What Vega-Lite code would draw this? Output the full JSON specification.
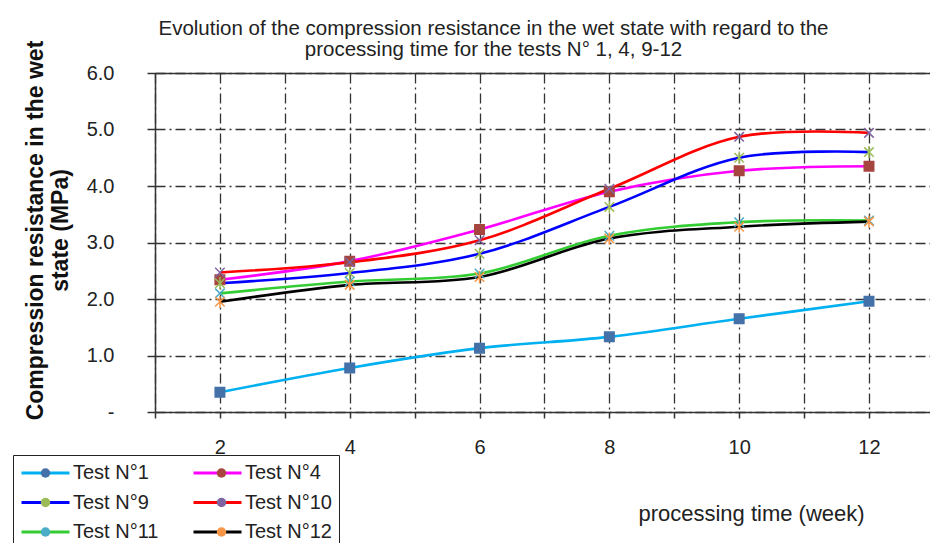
{
  "$schema": "https://vega.github.io/schema/vega-lite/v6.json",
  "autosize": "none",
  "width": 775,
  "height": 339,
  "padding": {"left": 155, "top": 73, "right": 0, "bottom": 131},
  "background": "white",
  "config": {
    "font": "Liberation Sans",
    "view": {"stroke": null}
  },
  "title": {
    "text": ["Evolution of the compression resistance in the wet state with regard to the", "processing time for the tests N° 1, 4, 9-12"],
    "font": "Liberation Sans",
    "fontSize": 20.5,
    "fontWeight": "normal",
    "color": "#222222",
    "anchor": "middle",
    "frame": "group",
    "lineHeight": 20.5,
    "dx": -49,
    "dy": 28,
    "offset": 8
  },
  "data": {
    "values": [
      {"series": "Test N°1", "week": 2, "value": 0.35},
      {"series": "Test N°1", "week": 4, "value": 0.78},
      {"series": "Test N°1", "week": 6, "value": 1.13},
      {"series": "Test N°1", "week": 8, "value": 1.33},
      {"series": "Test N°1", "week": 10, "value": 1.65},
      {"series": "Test N°1", "week": 12, "value": 1.96},
      {"series": "Test N°4", "week": 2, "value": 2.34},
      {"series": "Test N°4", "week": 4, "value": 2.67},
      {"series": "Test N°4", "week": 6, "value": 3.23},
      {"series": "Test N°4", "week": 8, "value": 3.9},
      {"series": "Test N°4", "week": 10, "value": 4.27},
      {"series": "Test N°4", "week": 12, "value": 4.35},
      {"series": "Test N°9", "week": 2, "value": 2.28},
      {"series": "Test N°9", "week": 4, "value": 2.46},
      {"series": "Test N°9", "week": 6, "value": 2.8},
      {"series": "Test N°9", "week": 8, "value": 3.63},
      {"series": "Test N°9", "week": 10, "value": 4.5},
      {"series": "Test N°9", "week": 12, "value": 4.6},
      {"series": "Test N°10", "week": 2, "value": 2.47},
      {"series": "Test N°10", "week": 4, "value": 2.65},
      {"series": "Test N°10", "week": 6, "value": 3.04},
      {"series": "Test N°10", "week": 8, "value": 3.95},
      {"series": "Test N°10", "week": 10, "value": 4.87},
      {"series": "Test N°10", "week": 12, "value": 4.94},
      {"series": "Test N°11", "week": 2, "value": 2.1},
      {"series": "Test N°11", "week": 4, "value": 2.31},
      {"series": "Test N°11", "week": 6, "value": 2.45},
      {"series": "Test N°11", "week": 8, "value": 3.12},
      {"series": "Test N°11", "week": 10, "value": 3.36},
      {"series": "Test N°11", "week": 12, "value": 3.39},
      {"series": "Test N°12", "week": 2, "value": 1.95},
      {"series": "Test N°12", "week": 4, "value": 2.25},
      {"series": "Test N°12", "week": 6, "value": 2.39},
      {"series": "Test N°12", "week": 8, "value": 3.07},
      {"series": "Test N°12", "week": 10, "value": 3.28},
      {"series": "Test N°12", "week": 12, "value": 3.37}
    ]
  },
  "resolve": {"axis": {"x": "independent"}},
  "layer": [
    {
      "mark": {"type": "line", "interpolate": "catmull-rom", "strokeWidth": 2.6},
      "encoding": {
        "x": {
          "field": "week", "type": "quantitative",
          "scale": {"domain": [1, 12.94], "nice": false, "zero": false},
          "axis": {
            "orient": "bottom",
            "values": [1, 2, 3, 4, 5, 6, 7, 8, 9, 10, 11, 12],
            "labelExpr": "datum.value % 2 == 0 ? datum.value : ''",
            "labelFont": "Liberation Sans", "labelFontSize": 20, "labelColor": "#222222",
            "labelPadding": 19, "labelFlush": false, "labelOverlap": false,
            "tickSize": 6, "tickColor": "#333333", "tickWidth": 1.5,
            "domainColor": "#333333", "domainWidth": 1.5,
            "grid": true, "gridColor": "#333333", "gridWidth": 1.3, "gridDash": [10, 4, 2, 4],
            "title": "processing time (week)",
            "titleFont": "Liberation Sans", "titleFontSize": 22, "titleFontWeight": "normal", "titleColor": "#222222",
            "titleX": 596, "titleY": 101, "titleAlign": "center", "titleBaseline": "middle", "titleAngle": 0
          }
        },
        "y": {
          "field": "value", "type": "quantitative",
          "scale": {"domain": [0, 6], "nice": false},
          "axis": {
            "values": [0, 1, 2, 3, 4, 5, 6],
            "labelExpr": "datum.value == 0 ? '-' : format(datum.value, '.1f')",
            "labelFont": "Liberation Sans", "labelFontSize": 20, "labelColor": "#222222",
            "labelPadding": 33,
            "tickSize": 8, "tickColor": "#333333", "tickWidth": 1.5,
            "domainColor": "#333333", "domainWidth": 1.5,
            "grid": true, "gridColor": "#333333", "gridWidth": 1.3, "gridDash": [10, 4, 2, 4],
            "title": ["Compression resistance in the wet", "state (MPa)"],
            "titleFont": "Liberation Sans", "titleFontSize": 23, "titleFontWeight": "bold", "titleColor": "#111111",
            "titleLineHeight": 25, "titleAngle": -90, "titleAlign": "center", "titleBaseline": "middle",
            "titleX": -120, "titleY": 157
          }
        },
        "stroke": {
          "field": "series", "type": "nominal",
          "scale": {
            "domain": ["Test N°1", "Test N°4", "Test N°9", "Test N°10", "Test N°11", "Test N°12"],
            "range": ["#00B0F0", "#FF00FF", "#0000FF", "#FF0000", "#33CC33", "#000000"]
          },
          "legend": {
            "orient": "none", "legendX": -142, "legendY": 382, "direction": "horizontal",
            "title": null, "columns": 2, "columnPadding": 33, "rowPadding": 7.5, "padding": 7,
            "clipHeight": 22,
            "symbolType": "stroke", "symbolSize": 2304, "symbolStrokeWidth": 3,
            "labelFont": "Liberation Sans", "labelFontSize": 20, "labelColor": "#222222", "labelOffset": 2,
            "strokeColor": "#222222", "fillColor": "white"
          }
        }
      }
    },
    {
      "mark": {"type": "point", "filled": true, "size": 90, "opacity": 1, "strokeWidth": 1.5,
               "stroke": {"expr": "scale('fill', datum.series)"}},
      "encoding": {
        "x": {
          "field": "week", "type": "quantitative",
          "axis": {"orient": "top", "labels": false, "ticks": false, "grid": false, "title": null,
                   "domainColor": "#333333", "domainWidth": 1.5}
        },
        "y": {"field": "value", "type": "quantitative"},
        "fill": {
          "field": "series", "type": "nominal",
          "sort": ["Test N°1", "Test N°4", "Test N°9", "Test N°10", "Test N°11", "Test N°12"],
          "scale": {"range": ["#4471A8", "#A6453F", "#9BBB59", "#8064A2", "#4BACC6", "#F79646"]},
          "legend": {
            "orient": "none", "legendX": -142, "legendY": 382, "direction": "horizontal",
            "title": null, "columns": 2, "columnPadding": 22, "rowPadding": 7.5, "padding": 7,
            "clipHeight": 22,
            "symbolSize": 90, "symbolStrokeWidth": 1.5, "symbolOffset": 15.5,
            "labelFont": "Liberation Sans", "labelFontSize": 20, "labelOpacity": 0, "labelOffset": 33,
            "strokeColor": null, "fillColor": null,
            "encode": {"symbols": {"update": {"stroke": {"scale": "fill", "field": "value"}, "strokeWidth": {"value": 1.5}, "opacity": {"value": 1}}}}
          }
        },
        "shape": {
          "field": "series", "type": "nominal",
          "sort": ["Test N°1", "Test N°4", "Test N°9", "Test N°10", "Test N°11", "Test N°12"],
          "scale": {"range": ["square", "square", "M-1,-1L1,1M-1,1L1,-1M0,-1.3L0,1.3", "M-1,-1L1,1M-1,1L1,-1", "M-1,-1L1,1M-1,1L1,-1", "M-1,-1L1,1M-1,1L1,-1M0,-1.3L0,1.3"]}
        }
      }
    }
  ]
}
